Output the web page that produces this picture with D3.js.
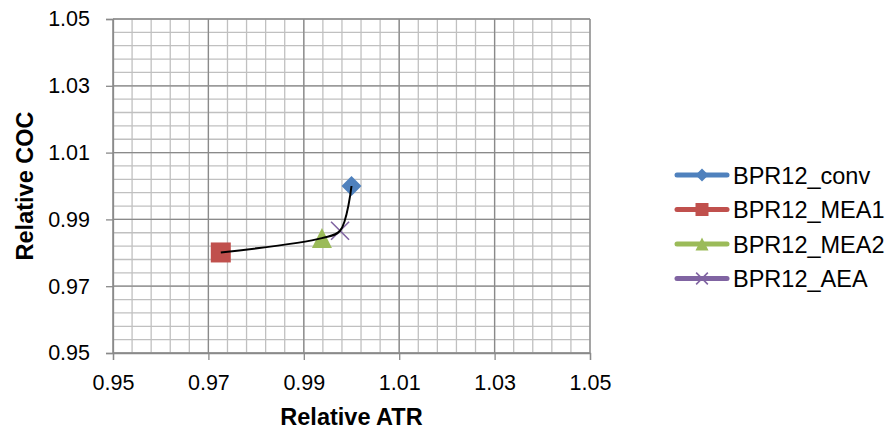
<!DOCTYPE html>
<html>
<head>
<meta charset="utf-8">
<script src="https://cdn.jsdelivr.net/npm/d3@7"></script>
<style>
  body { margin: 0; background: #fff; }
  text { font-family: "Liberation Sans", Arial, sans-serif; fill: #000; }
</style>
</head>
<body>
<div id="chart"></div>
<script>
// series data (Relative ATR, Relative COC)
var seriesNames = ["BPR12_conv", "BPR12_MEA1", "BPR12_MEA2", "BPR12_AEA"];
var atrValues = [1.0, 0.9726, 0.9938, 0.9976];
var cocValues = [1.0, 0.9801, 0.9844, 0.9866];
var seriesColors = ["#4F81BD", "#C0504D", "#9BBB59", "#8064A2"];
var markerShapes = ["diamond", "square", "triangle", "cross"];
// black connecting line, order of points
var lineOrder = [1, 2, 3, 0];
var tickValues = [0.95, 0.97, 0.99, 1.01, 1.03, 1.05];

var svgWidth = 889, svgHeight = 429;
var margin = {top: 19, right: 299, bottom: 76, left: 113};
var width = svgWidth - margin.left - margin.right;
var height = svgHeight - margin.top - margin.bottom;

var svg = d3.select("#chart").append("svg")
  .attr("width", svgWidth).attr("height", svgHeight);
var chart = svg.append("g")
  .attr("transform", "translate(" + margin.left + "," + margin.top + ")");

var x = d3.scaleLinear().domain([0.95, 1.05]).range([0, width]);
var y = d3.scaleLinear().domain([0.95, 1.05]).range([height, 0]);

// minor grid every 0.004
var minor = d3.range(0, 26).map(function(i) { return 0.95 + i * 0.004; });
chart.append("g").selectAll("line").data(minor).enter().append("line")
  .attr("x1", function(d) { return x(d); }).attr("x2", function(d) { return x(d); })
  .attr("y1", 0).attr("y2", height)
  .attr("stroke", "#C0C0C0").attr("stroke-width", 1.3);
chart.append("g").selectAll("line").data(minor).enter().append("line")
  .attr("y1", function(d) { return y(d); }).attr("y2", function(d) { return y(d); })
  .attr("x1", 0).attr("x2", width)
  .attr("stroke", "#C0C0C0").attr("stroke-width", 1.3);

// major grid
chart.append("g").selectAll("line").data(tickValues).enter().append("line")
  .attr("x1", function(d) { return x(d); }).attr("x2", function(d) { return x(d); })
  .attr("y1", 0).attr("y2", height)
  .attr("stroke", "#8A8A8A").attr("stroke-width", 1.3);
chart.append("g").selectAll("line").data(tickValues).enter().append("line")
  .attr("y1", function(d) { return y(d); }).attr("y2", function(d) { return y(d); })
  .attr("x1", 0).attr("x2", width)
  .attr("stroke", "#8A8A8A").attr("stroke-width", 1.3);

// axes
var bottomAxis = d3.axisBottom(x).tickValues(tickValues).tickSize(7).tickPadding(15)
  .tickFormat(d3.format(".2f"));
var leftAxis = d3.axisLeft(y).tickValues(tickValues).tickSize(7).tickPadding(16)
  .tickFormat(d3.format(".2f"));

var gx = chart.append("g").attr("transform", "translate(0," + height + ")").call(bottomAxis);
var gy = chart.append("g").call(leftAxis);
[gx, gy].forEach(function(g) {
  g.select(".domain").attr("stroke", "#8A8A8A").attr("stroke-width", 1.3);
  g.selectAll(".tick line").attr("stroke", "#8A8A8A").attr("stroke-width", 1.3);
  g.selectAll(".tick text").attr("font-size", "21.5px")
    .attr("font-family", "Liberation Sans, Arial, sans-serif").attr("fill", "#000");
});

// axis titles
chart.append("text")
  .attr("x", width / 2).attr("y", 425 - margin.top)
  .attr("text-anchor", "middle").attr("font-size", "23.5px").attr("font-weight", "bold")
  .text("Relative ATR");
chart.append("text")
  .attr("transform", "rotate(-90)")
  .attr("x", -height / 2).attr("y", -80)
  .attr("text-anchor", "middle").attr("font-size", "23.5px").attr("font-weight", "bold")
  .text("Relative COC");

function symbolFor(shape, s) {
  // s = marker box size in px
  var h = s / 2;
  if (shape === "diamond") return "M0," + (-h) + "L" + h + ",0L0," + h + "L" + (-h) + ",0Z";
  if (shape === "square") return "M" + (-h) + "," + (-h) + "H" + h + "V" + h + "H" + (-h) + "Z";
  if (shape === "triangle") return "M0," + (-h) + "L" + h + "," + h + "L" + (-h) + "," + h + "Z";
  var c = h * 0.9;
  return "M" + (-c) + "," + (-c) + "L" + c + "," + c + "M" + (-c) + "," + c + "L" + c + "," + (-c);
}

// markers
var pts = seriesNames.map(function(n, i) {
  return {name: n, atr: atrValues[i], coc: cocValues[i], color: seriesColors[i], shape: markerShapes[i]};
});
chart.append("g").selectAll("path").data(pts).enter().append("path")
  .attr("transform", function(d) { return "translate(" + x(d.atr) + "," + y(d.coc) + ")"; })
  .attr("d", function(d) { return symbolFor(d.shape, 20); })
  .attr("fill", function(d) { return d.shape === "cross" ? "none" : d.color; })
  .attr("stroke", function(d) { return d.color; })
  .attr("stroke-width", function(d) { return d.shape === "cross" ? 1.6 : 0; });

// smoothed black connecting line
var line = d3.line()
  .x(function(d) { return x(d.atr); })
  .y(function(d) { return y(d.coc); })
  .curve(d3.curveCatmullRom.alpha(0.5));
chart.append("path")
  .datum(lineOrder.map(function(i) { return pts[i]; }))
  .attr("d", line)
  .attr("fill", "none").attr("stroke", "#000").attr("stroke-width", 2);

// legend
var legend = svg.append("g").attr("transform", "translate(675,175)");
var rows = legend.selectAll("g").data(pts).enter().append("g")
  .attr("transform", function(d, i) { return "translate(0," + i * 34.5 + ")"; });
rows.append("line")
  .attr("x1", 2).attr("x2", 52).attr("y1", 0).attr("y2", 0)
  .attr("stroke", function(d) { return d.color; })
  .attr("stroke-width", 5).attr("stroke-linecap", "round");
rows.append("path")
  .attr("transform", "translate(27,0)")
  .attr("d", function(d) { return symbolFor(d.shape, 13); })
  .attr("fill", function(d) { return d.shape === "cross" ? "none" : d.color; })
  .attr("stroke", function(d) { return d.color; })
  .attr("stroke-width", function(d) { return d.shape === "cross" ? 1.6 : 0; });
rows.append("text")
  .attr("x", 58).attr("y", 8.5)
  .attr("font-size", "23.5px")
  .text(function(d) { return d.name; });
</script>
</body>
</html>
